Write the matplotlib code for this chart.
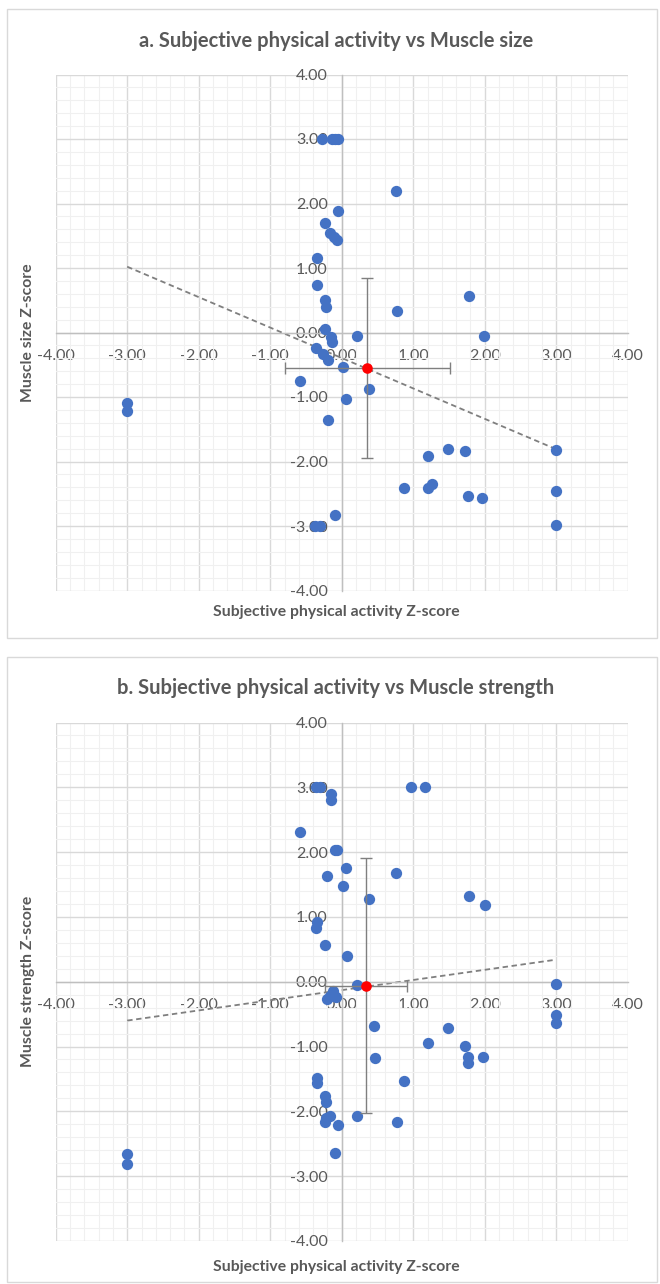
import matplotlib
matplotlib.use("Agg")
import matplotlib.pyplot as plt
from matplotlib.patches import Rectangle
from matplotlib.ticker import MultipleLocator

# ── Data ──────────────────────────────────────────────────────────────────────
size_x = [-0.28, -0.14, -0.09, -0.05, 0.76, -0.05, -0.23, -0.17, -0.11, -0.06,
          -0.34, -0.34, -0.23, -0.22, 0.77, 1.78, -0.23, -0.15, -0.14, 0.22,
          1.99, -0.36, -0.26, -0.19, 0.02, -0.58, 0.38, 0.06, -3.00, -3.00,
          -0.19, 1.21, 1.49, 1.73, 3.00, 0.87, 1.21, 1.26, 1.76, 1.96,
          3.00, 3.00, -0.09, -0.38, -0.30]
size_y = [3.00, 3.00, 3.00, 3.00, 2.20, 1.88, 1.69, 1.54, 1.48, 1.44,
          1.15, 0.74, 0.51, 0.39, 0.34, 0.57, 0.06, -0.07, -0.15, -0.05,
          -0.06, -0.24, -0.34, -0.43, -0.54, -0.75, -0.87, -1.03, -1.10, -1.22,
          -1.36, -1.91, -1.80, -1.84, -1.82, -2.41, -2.41, -2.35, -2.54, -2.56,
          -2.45, -2.99, -2.83, -3.00, -3.00]

strength_x = [-0.36, -0.30, -0.15, -0.15, 0.97, 1.17, -0.58, -0.10, -0.06, 0.06,
              -0.20, 0.76, 0.02, 0.38, 1.78, 2.00, -0.35, -0.36, -0.23, 0.07,
              0.22, -0.12, -0.16, -0.08, -0.20, 3.00, 3.00, 3.00, 0.45, 1.49,
              1.21, 1.73, 1.76, 1.76, 1.97, 0.46, 0.87, -0.34, -0.34, -0.23,
              -0.22, -0.16, -0.22, -0.23, -0.05, 0.22, 0.77, -0.10, -3.00, -3.00]
strength_y = [3.00, 3.00, 2.90, 2.81, 3.00, 3.00, 2.31, 2.04, 2.03, 1.75,
              1.63, 1.68, 1.47, 1.28, 1.32, 1.18, 0.92, 0.83, 0.56, 0.40,
              -0.05, -0.14, -0.22, -0.24, -0.27, -0.03, -0.51, -0.64, -0.69, -0.72,
              -0.94, -0.99, -1.16, -1.25, -1.16, -1.17, -1.53, -1.49, -1.57, -1.77,
              -1.85, -2.07, -2.10, -2.17, -2.21, -2.07, -2.16, -2.64, -2.66, -2.81]

# mean point with SD error bars: (x, y, sd_x, sd_y)
size_mean = (0.36, -0.55, 1.15, 1.40)
strength_mean = (0.34, -0.06, 0.57, 1.97)

# linear trend end points
size_trend_x = [-3.0, 3.0]
size_trend_y = [1.02, -1.81]
strength_trend_x = [-3.0, 3.0]
strength_trend_y = [-0.60, 0.34]

ticks = [-4, -3, -2, -1, 0, 1, 2, 3, 4]
tick_labels = ["-4.00", "-3.00", "-2.00", "-1.00", "0.00", "1.00", "2.00", "3.00", "4.00"]

# ── Style ─────────────────────────────────────────────────────────────────────
BLUE = "#4472C4"
RED = "#FF0000"
TEXT = "#595959"
MAJOR = "#d9d9d9"
MINOR = "#f0f0f0"
AXIS = "#bfbfbf"
BAR = "#7f7f7f"

plt.rcParams["font.family"] = ["Lato", "DejaVu Sans"]

W, H = 660, 1284
fig = plt.figure(figsize=(W / 100, H / 100), dpi=100)


def px_box(x0, y0, x1, y1):
    # pixel box (top-left origin) -> figure fraction rect
    return [x0 / W, 1 - y1 / H, (x1 - x0) / W, (y1 - y0) / H]


def draw_panel(rect, frame, xs, ys, mean, tx, ty, title, title_y, ylabel, xlabel_y):
    fx0, fy0, fx1, fy1 = frame
    fig.patches.append(Rectangle((fx0 / W, 1 - fy1 / H), (fx1 - fx0) / W, (fy1 - fy0) / H,
                                 transform=fig.transFigure, fill=False,
                                 edgecolor=MAJOR, linewidth=1.0))
    ax = fig.add_axes(px_box(*rect))
    ax.set_xlim(-4, 4)
    ax.set_ylim(-4, 4)

    ax.xaxis.set_minor_locator(MultipleLocator(0.2))
    ax.yaxis.set_minor_locator(MultipleLocator(0.2))
    ax.grid(which="minor", color=MINOR, linewidth=0.8, zorder=0)
    ax.grid(which="major", color=MAJOR, linewidth=1.0, zorder=0)
    ax.set_axisbelow(True)

    for side in ("top", "right"):
        ax.spines[side].set_visible(False)
    for side in ("left", "bottom"):
        ax.spines[side].set_position(("data", 0))
        ax.spines[side].set_color(AXIS)
        ax.spines[side].set_linewidth(1.0)

    ax.set_xticks(ticks, tick_labels)
    ax.set_yticks(ticks, tick_labels)
    ax.tick_params(which="both", length=0, labelsize=11.5, labelcolor=TEXT)
    ax.tick_params(axis="x", pad=12)
    ax.tick_params(axis="y", pad=10)

    ax.plot(tx, ty, color=BAR, linestyle=(0, (3, 2)), linewidth=1.3, zorder=2)
    ax.scatter(xs, ys, s=66, color=BLUE, linewidths=0, zorder=3)
    mx, my, sx, sy = mean
    ax.errorbar([mx], [my], xerr=[sx], yerr=[sy], fmt="none", ecolor=BAR,
                elinewidth=1.0, capsize=4.5, capthick=1.0, zorder=4)
    ax.scatter([mx], [my], s=58, color=RED, linewidths=0, zorder=5)

    fig.text(336 / W, 1 - title_y / H, title, ha="center", va="center",
             fontsize=14.5, fontweight="bold", color=TEXT)
    fig.text(336 / W, 1 - xlabel_y / H, "Subjective physical activity Z-score",
             ha="center", va="center", fontsize=11.3, fontweight="bold", color=TEXT)
    fig.text(28 / W, 1 - (rect[1] + rect[3]) / 2 / H, ylabel, ha="center", va="center",
             rotation=90, fontsize=11.3, fontweight="bold", color=TEXT)
    return ax


draw_panel((55.7, 74.5, 627.7, 590.5), (7, 9, 657, 638), size_x, size_y, size_mean,
           size_trend_x, size_trend_y,
           "a. Subjective physical activity vs Muscle size", 41, "Muscle size Z-score", 612)
draw_panel((55.7, 722.5, 627.7, 1240.9), (7, 657, 657, 1282), strength_x, strength_y,
           strength_mean, strength_trend_x, strength_trend_y,
           "b. Subjective physical activity vs Muscle strength", 688, "Muscle strength Z-score", 1267)

fig.savefig("out.png", dpi=100, facecolor="white")
